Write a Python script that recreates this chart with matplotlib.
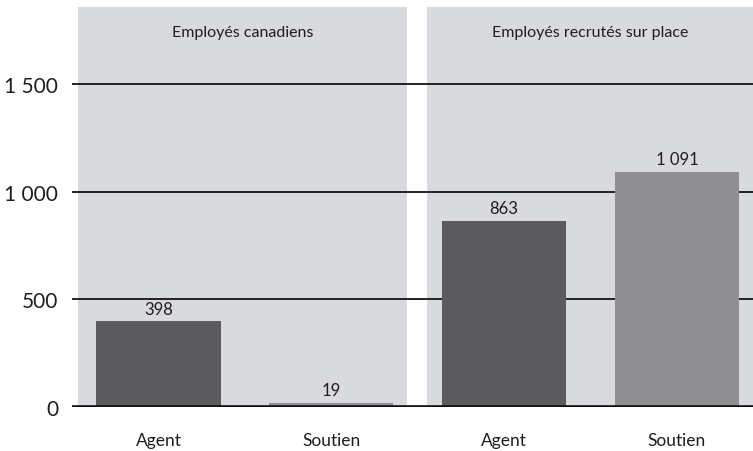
import numpy as np
import matplotlib.pyplot as plt

# Effectifs par groupe et par catégorie
groupes = ["Employés canadiens", "Employés recrutés sur place"]
categories = ["Agent", "Soutien", "Agent", "Soutien"]
valeurs = [398, 19, 863, 1091]
etiquettes = ["398", "19", "863", "1 091"]
graduations = [0, 500, 1000, 1500]
etiquettes_graduations = ["0", "500", "1 000", "1 500"]

plt.rcParams['font.family'] = ['Lato', 'DejaVu Sans']

fig = plt.figure(figsize=(7.53, 4.52), dpi=100)
ax = fig.add_axes([72 / 753, 1 - 408 / 452, 1 - 72 / 753, 400 / 452])
ax.set_xlim(-0.5, 3.44)
ax.set_ylim(0, 1858)

# fonds gris des deux panneaux
fond = "#d9dade"
ax.axvspan(-0.465, 1.44, color=fond, zorder=0, lw=0)
ax.axvspan(1.555, 3.5, color=fond, zorder=0, lw=0)

# lignes de grille
for g in graduations[1:]:
    ax.axhline(g, color="#222222", lw=1.4, zorder=1)
ax.axhline(0, color="#111111", lw=2.6, zorder=3)

x = np.arange(len(categories))
couleurs = ["#5b5b5d", "#8f8f91", "#5b5b5d", "#8f8f91"]
ax.bar(x, valeurs, width=0.72, color=couleurs, zorder=2)

for xi, v, t in zip(x, valeurs, etiquettes):
    ax.text(xi, v + 22, t, ha="center", va="bottom", fontsize=12, color="#1e1e1e")

# titres des panneaux
ax.text(0.49, 1740, groupes[0], ha="center", va="center", fontsize=11.5, color="#1e1e1e")
ax.text(2.5, 1740, groupes[1], ha="center", va="center", fontsize=11.5, color="#1e1e1e")

ax.set_yticks(graduations)
ax.set_yticklabels(etiquettes_graduations, fontsize=15, color="#1e1e1e")
ax.set_xticks(x)
ax.set_xticklabels(categories, fontsize=12.5, color="#1e1e1e")
ax.tick_params(axis="y", length=0, pad=10)
ax.tick_params(axis="x", length=0, pad=18)
for s in ax.spines.values():
    s.set_visible(False)

fig.savefig("out.png", dpi=100)
